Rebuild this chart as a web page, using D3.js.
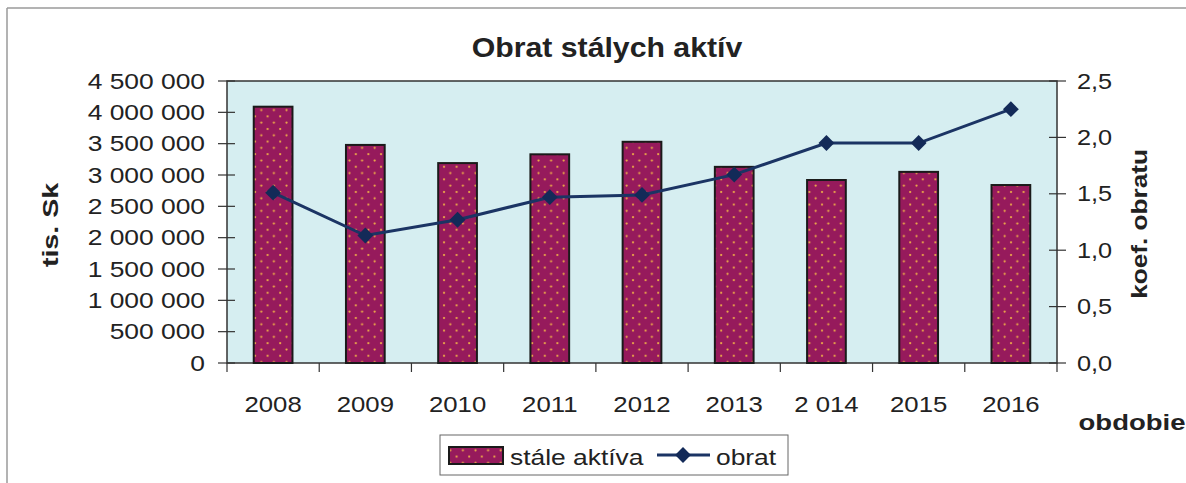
<!DOCTYPE html>
<html>
<head>
<meta charset="utf-8">
<script src="https://cdn.jsdelivr.net/npm/d3@7"></script>
<style>
  body { margin: 0; background: #fff; }
  svg text { font-family: "Liberation Sans", Arial, sans-serif; fill: #222; }
</style>
</head>
<body>
<div id="chart"></div>
<script>
// Datos
const years = ["2008", "2009", "2010", "2011", "2012", "2013", "2 014", "2015", "2016"];
const aktiva = [4090000, 3480000, 3190000, 3330000, 3530000, 3130000, 2920000, 3050000, 2840000];
const obrat = [1.51, 1.13, 1.27, 1.47, 1.49, 1.67, 1.95, 1.95, 2.25];
const leftTicks = [0, 500000, 1000000, 1500000, 2000000, 2500000, 3000000, 3500000, 4000000, 4500000];
const rightTicks = [0, 0.5, 1.0, 1.5, 2.0, 2.5];

const W = 1186, H = 483;
const plot = { left: 227, right: 1057, top: 81, bottom: 363 };
const SX = 1.2; // el texto del original es más ancho que Arial

const svg = d3.select("#chart").append("svg")
  .attr("width", W).attr("height", H);

// estira el texto en su propia dirección
function stretch(sel, sx) {
  sel.each(function () {
    const t = d3.select(this);
    const x = +t.attr("x") || 0;
    const y = +t.attr("y") || 0;
    t.attr("transform", `translate(${x},${y}) scale(${sx},1) translate(${-x},${-y})`);
  });
}

// patrón de puntos para las barras
const defs = svg.append("defs");
const pat = defs.append("pattern")
  .attr("id", "dots")
  .attr("patternUnits", "userSpaceOnUse")
  .attr("width", 12.6).attr("height", 12.6);
pat.append("rect").attr("width", 12.6).attr("height", 12.6).attr("fill", "#961a5c");
pat.append("circle").attr("cx", 3).attr("cy", 3).attr("r", 1.1).attr("fill", "#f2b347");
pat.append("circle").attr("cx", 9.3).attr("cy", 9.3).attr("r", 1.1).attr("fill", "#f2b347");

// marco exterior
svg.append("line").attr("x1", 7).attr("x2", W).attr("y1", 8).attr("y2", 8)
  .attr("stroke", "#9a9a9a").attr("stroke-width", 1.5);
svg.append("line").attr("x1", 7).attr("x2", 7).attr("y1", 8).attr("y2", H)
  .attr("stroke", "#9a9a9a").attr("stroke-width", 1.5);

// escalas
const x = d3.scaleBand().domain(years).range([plot.left, plot.right]).paddingInner(0.58).paddingOuter(0.29);
const xb = d3.scaleBand().domain(years).range([plot.left, plot.right]);
const yL = d3.scaleLinear().domain([0, 4500000]).range([plot.bottom, plot.top]);
const yR = d3.scaleLinear().domain([0, 2.5]).range([plot.bottom, plot.top]);

// fondo del área
svg.append("rect")
  .attr("x", plot.left).attr("y", plot.top)
  .attr("width", plot.right - plot.left).attr("height", plot.bottom - plot.top)
  .attr("fill", "#d6eef1").attr("stroke", "#333").attr("stroke-width", 1.5);

// barras
svg.selectAll(".bar").data(years).enter().append("rect")
  .attr("class", "bar")
  .attr("x", (d) => x(d))
  .attr("width", x.bandwidth())
  .attr("y", (d, i) => yL(aktiva[i]))
  .attr("height", (d, i) => plot.bottom - yL(aktiva[i]))
  .attr("fill", "url(#dots)")
  .attr("stroke", "#1a1a1a").attr("stroke-width", 2);

// eje izquierdo
const fmt = (v) => d3.format(",")(v).replace(/,/g, " ");
svg.append("g").attr("transform", `translate(${plot.left},0)`)
  .call(d3.axisLeft(yL).tickValues(leftTicks).tickFormat(fmt).tickSize(0).tickPadding(22))
  .call((g) => g.select(".domain").remove())
  .call((g) => g.selectAll("text").style("font-size", "22px").attr("fill", "#222").call(stretch, SX));
svg.append("g").selectAll("line").data(leftTicks).enter().append("line")
  .attr("x1", plot.left - 9).attr("x2", plot.left + 8)
  .attr("y1", (d) => yL(d)).attr("y2", (d) => yL(d))
  .attr("stroke", "#333").attr("stroke-width", 1.2);

// eje derecho
svg.append("g").attr("transform", `translate(${plot.right},0)`)
  .call(d3.axisRight(yR).tickValues(rightTicks).tickFormat((d) => d3.format(".1f")(d).replace(".", ",")).tickSize(0).tickPadding(20))
  .call((g) => g.select(".domain").remove())
  .call((g) => g.selectAll("text").style("font-size", "22px").attr("fill", "#222").call(stretch, 1.15));
svg.append("g").selectAll("line").data(rightTicks).enter().append("line")
  .attr("x1", plot.right - 8).attr("x2", plot.right + 9)
  .attr("y1", (d) => yR(d)).attr("y2", (d) => yR(d))
  .attr("stroke", "#333").attr("stroke-width", 1.2);

// eje x
svg.append("g").attr("transform", `translate(0,${plot.bottom})`)
  .call(d3.axisBottom(xb).tickSize(0).tickPadding(33))
  .call((g) => g.select(".domain").remove())
  .call((g) => g.selectAll("text").style("font-size", "23px").attr("fill", "#222").call(stretch, 1.12));
const bounds = years.map((d) => xb(d)).concat([plot.right]);
svg.append("g").selectAll("line").data(bounds).enter().append("line")
  .attr("x1", (d) => d).attr("x2", (d) => d)
  .attr("y1", plot.bottom).attr("y2", plot.bottom + 9)
  .attr("stroke", "#333").attr("stroke-width", 1.2);

// línea obrat
const line = d3.line()
  .x((d, i) => xb(years[i]) + xb.bandwidth() / 2)
  .y((d) => yR(d));
svg.append("path").datum(obrat)
  .attr("d", line)
  .attr("fill", "none").attr("stroke", "#1b3464").attr("stroke-width", 3);
svg.selectAll(".pt").data(obrat).enter().append("path")
  .attr("class", "pt")
  .attr("d", d3.symbol(d3.symbolDiamond2, 160))
  .attr("transform", (d, i) => `translate(${xb(years[i]) + xb.bandwidth() / 2},${yR(d)})`)
  .attr("fill", "#132a58");

// títulos
svg.append("text").attr("x", 607).attr("y", 57).attr("text-anchor", "middle")
  .style("font-size", "28px").style("font-weight", "bold").text("Obrat stálych aktív")
  .call(stretch, 1.08);
svg.append("g").attr("transform", "translate(58,225) rotate(-90)")
  .append("text").attr("text-anchor", "middle").style("font-size", "22px").style("font-weight", "bold")
  .text("tis. Sk").call(stretch, 1.3);
svg.append("g").attr("transform", "translate(1147,224) rotate(-90)")
  .append("text").attr("text-anchor", "middle").style("font-size", "22px").style("font-weight", "bold")
  .text("koef. obratu").call(stretch, 1.19);
svg.append("text").attr("x", 1132).attr("y", 430).attr("text-anchor", "middle")
  .style("font-size", "22px").style("font-weight", "bold").text("obdobie").call(stretch, 1.25);

// leyenda
const lg = svg.append("g");
lg.append("rect").attr("x", 440).attr("y", 435).attr("width", 348).attr("height", 40)
  .attr("fill", "#fff").attr("stroke", "#666").attr("stroke-width", 1);
lg.append("rect").attr("x", 449).attr("y", 447).attr("width", 54).attr("height", 17)
  .attr("fill", "url(#dots)").attr("stroke", "#1a1a1a").attr("stroke-width", 2);
lg.append("text").attr("x", 510).attr("y", 465).style("font-size", "22px").text("stále aktíva").call(stretch, SX);
lg.append("line").attr("x1", 657).attr("x2", 710).attr("y1", 455).attr("y2", 455)
  .attr("stroke", "#1b3464").attr("stroke-width", 3);
lg.append("path").attr("d", d3.symbol(d3.symbolDiamond2, 160))
  .attr("transform", "translate(683,455)").attr("fill", "#132a58");
lg.append("text").attr("x", 716).attr("y", 465).style("font-size", "22px").text("obrat").call(stretch, SX);
</script>
</body>
</html>
